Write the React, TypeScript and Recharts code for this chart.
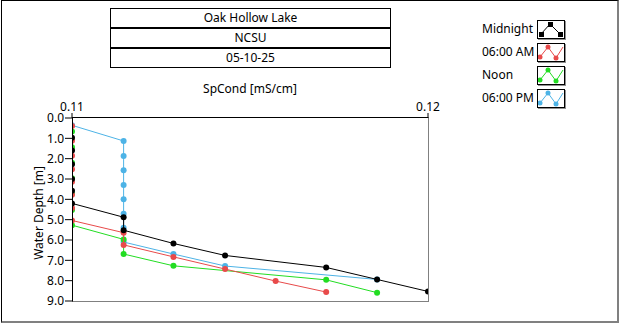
import React from "react";
import { ScatterChart, Scatter, XAxis, YAxis } from "recharts";

// SpCond profile, Oak Hollow Lake 05-10-25
const xTicks = [0.11, 0.12];
const yTicks = [0, 1, 2, 3, 4, 5, 6, 7, 8, 9];
const titleLines = ["Oak Hollow Lake", "NCSU", "05-10-25"];

const midnightDepth = [0.97, 1.6, 2.28, 3.0, 3.58, 4.2, 4.88, 5.52, 6.17, 6.76, 7.35, 7.94, 8.53];
const midnightCond = [0.11, 0.11, 0.11, 0.11, 0.11, 0.11, 0.11145, 0.11145, 0.11285, 0.1143, 0.11714, 0.11857, 0.12];

const amDepth = [0.39, 1.12, 1.86, 2.52, 3.13, 3.78, 4.43, 5.04, 5.64, 6.24, 6.83, 7.43, 8.02, 8.56];
const amCond = [0.11, 0.11, 0.11, 0.11, 0.11, 0.11, 0.11, 0.11, 0.11145, 0.11145, 0.11285, 0.1143, 0.11572, 0.11714];

const noonDepth = [0.67, 1.44, 2.2, 2.96, 3.72, 4.52, 5.27, 5.97, 6.69, 7.27, 7.96, 8.59];
const noonCond = [0.11, 0.11, 0.11, 0.11, 0.11, 0.11, 0.11, 0.11145, 0.11145, 0.11285, 0.11714, 0.11857];

const pmDepth = [0.36, 1.13, 1.87, 2.57, 3.29, 3.99, 4.71, 5.4, 6.1, 6.69, 7.28, 7.94];
const pmCond = [0.11, 0.11145, 0.11145, 0.11145, 0.11145, 0.11145, 0.11145, 0.11145, 0.11145, 0.11285, 0.1143, 0.11857];

const toPoints = (cond: number[], depth: number[]) =>
  depth.map((d, i) => ({ cond: cond[i], depth: d }));

// drawn back to front (Midnight on top)
const series = [
  { name: "06:00 PM", color: "#4db3e6", data: toPoints(pmCond, pmDepth) },
  { name: "Noon", color: "#22dd22", data: toPoints(noonCond, noonDepth) },
  { name: "06:00 AM", color: "#e84a4a", data: toPoints(amCond, amDepth) },
  { name: "Midnight", color: "#000000", data: toPoints(midnightCond, midnightDepth) },
];

const legendOrder = ["Midnight", "06:00 AM", "Noon", "06:00 PM"];

function LegendIcon({ color, peak }: { color: string; peak: boolean }) {
  const pts = peak
    ? [[3, 13], [12, 3], [22, 13]]
    : [[2, 13], [10, 3], [18, 14], [25, 3]];
  const path = pts.map((p, i) => (i === 0 ? "M" : "L") + p[0] + "," + p[1]).join(" ");
  return (
    <svg width={26} height={17} style={{ display: "block" }}>
      <path d={path} stroke={color} strokeWidth={1} fill="none" />
      {pts.slice(0, peak ? 3 : 3).map((p, i) =>
        peak ? (
          <rect key={i} x={p[0] - 2} y={p[1] - 2} width={5} height={5} fill={color} />
        ) : (
          <circle key={i} cx={p[0]} cy={p[1]} r={2.5} fill={color} />
        )
      )}
    </svg>
  );
}

export default function App() {
  const font = "'Noto Sans', 'Open Sans', sans-serif";
  return (
    <div
      style={{
        position: "absolute",
        left: 0,
        top: 0,
        width: 620,
        height: 324,
        background: "#fff",
        fontFamily: font,
        color: "#000",
      }}
    >
      {/* outer frame */}
      <div
        style={{
          position: "absolute",
          left: 1,
          top: 0,
          width: 618,
          height: 323,
          boxSizing: "border-box",
          borderLeft: "1px solid #000",
          borderTop: "1px solid #000",
          borderRight: "2px solid #808080",
          borderBottom: "2px solid #808080",
        }}
      />

      {/* title boxes */}
      <div
        style={{
          position: "absolute",
          left: 110,
          top: 8,
          width: 281,
          boxSizing: "border-box",
          border: "1px solid #000",
          fontSize: 12,
        }}
      >
        {titleLines.map((t, i) => (
          <div
            key={t}
            style={{
              height: i === 0 ? 18 : 18,
              lineHeight: "18px",
              textAlign: "center",
              borderTop: i === 0 ? "none" : "2px solid #000",
            }}
          >
            {t}
          </div>
        ))}
      </div>

      <div
        style={{
          position: "absolute",
          left: 150,
          width: 200,
          top: 80,
          textAlign: "center",
          fontSize: 12,
        }}
      >
        SpCond [mS/cm]
      </div>

      <div
        style={{
          position: "absolute",
          left: 38,
          top: 213,
          fontSize: 12,
          whiteSpace: "nowrap",
          transform: "translate(-50%, -50%) rotate(-90deg)",
        }}
      >
        Water Depth [m]
      </div>

      {/* legend */}
      {legendOrder.map((name, i) => {
        const s = series.find((x) => x.name === name)!;
        return (
          <div key={name}>
            <div
              style={{
                position: "absolute",
                left: 482,
                top: 20 + i * 23,
                height: 17,
                lineHeight: "17px",
                fontSize: 12,
              }}
            >
              {name}
            </div>
            <div
              style={{
                position: "absolute",
                left: 537,
                top: 20 + i * 23,
                border: "1px solid #000",
                boxShadow: "1px 1px 0 #909090",
              }}
            >
              <LegendIcon color={s.color} peak={name === "Midnight"} />
            </div>
          </div>
        );
      })}

      <div style={{ position: "absolute", left: 0, top: 0 }}>
        <ScatterChart
          width={620}
          height={324}
          margin={{ top: 98, right: 192, bottom: 23, left: 32 }}
        >
          <XAxis
            xAxisId={0}
            type="number"
            dataKey="cond"
            orientation="top"
            height={20}
            domain={[0.11, 0.12]}
            ticks={xTicks}
            allowDataOverflow
            tickFormatter={(v: number) => v.toFixed(2)}
            tick={{ fill: "#000", fontSize: 12 }}
            tickLine={{ stroke: "#000" }}
            tickSize={5}
            tickMargin={2}
            axisLine={false}
          />
          <YAxis
            yAxisId={0}
            type="number"
            dataKey="depth"
            width={40}
            domain={[0, 9]}
            reversed
            ticks={yTicks}
            allowDataOverflow
            tickFormatter={(v: number) => v.toFixed(1)}
            tick={{ fill: "#000", fontSize: 12 }}
            tickLine={{ stroke: "#000" }}
            tickSize={7}
            tickMargin={1}
            axisLine={false}
          />
          {series.map((s) => (
            <Scatter
              key={s.name}
              name={s.name}
              data={s.data}
              line={{ stroke: s.color, strokeWidth: 1 }}
              lineType="joint"
              isAnimationActive={false}
              shape={(p: any) => <circle cx={p.cx} cy={p.cy} r={3} fill={s.color} />}
            />
          ))}
        </ScatterChart>
      </div>

      {/* plot border */}
      <div
        style={{
          position: "absolute",
          left: 72,
          top: 117,
          width: 357,
          height: 185,
          boxSizing: "border-box",
          borderLeft: "1px solid #000",
          borderTop: "1px solid #000",
          borderRight: "1px solid #808080",
          borderBottom: "1px solid #808080",
          pointerEvents: "none",
        }}
      />
    </div>
  );
}
